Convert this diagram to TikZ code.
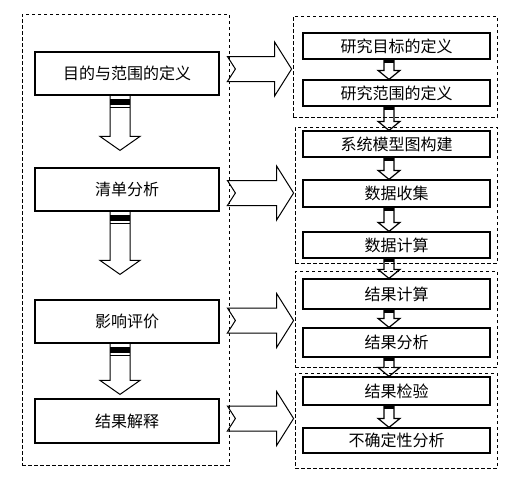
\documentclass[tikz,border=0pt]{standalone}
\usepackage{fontspec}
\newfontfamily\cjk{Noto Sans CJK SC}
\usetikzlibrary{calc}
\tikzset{
  stepbox/.style={draw, line width=1.2pt, inner sep=0pt, font=\cjk\fontsize{16}{16}\selectfont},
  lbox/.style={stepbox, minimum width=184pt},
  rbox/.style={stepbox, minimum width=187pt},
  grp/.style={draw, line width=0.8pt, dash pattern=on 3.5pt off 2.5pt, inner sep=0pt},
  arrowline/.style={draw, line width=1pt, line join=miter}
}
% big hollow down arrow between left boxes: #1 from, #2 to, #3 gap of tip above target
\newcommand\bigdown[3]{%
  \draw[arrowline] let \p1=(#1.south), \p2=(#2.north) in
    (\x1-17pt,\y1) -- (\x1-17pt,\y2+#3pt+14pt) -- (\x1-27pt,\y2+#3pt+14pt)
    -- (\x1-7pt,\y2+#3pt) -- (\x1+13pt,\y2+#3pt+14pt) -- (\x1+3pt,\y2+#3pt+14pt)
    -- (\x1+3pt,\y1);
  \fill let \p1=(#1.south) in (\x1-17pt,\y1-3pt) rectangle (\x1+3pt,\y1-9pt);
  \draw[line width=1pt] let \p1=(#1.south) in (\x1-17pt,\y1-12pt) -- (\x1+3pt,\y1-12pt);
}
% small hollow down arrow between right boxes
\newcommand\smalldown[2]{%
  \draw[arrowline, line width=1.2pt] let \p1=(#1.south), \p2=(#2.north) in
    (\x1-12.5pt,\y1) -- (\x1-12.5pt,\y2+9pt) -- (\x1-18.5pt,\y2+9pt)
    -- (\x1-7.5pt,\y2) -- (\x1+3.5pt,\y2+9pt) -- (\x1-2.5pt,\y2+9pt)
    -- (\x1-2.5pt,\y1);
  \fill let \p1=(#1.south) in (\x1-12.5pt,\y1) rectangle (\x1-2.5pt,\y1-3pt);
}
% big hollow right arrow from left frame #1 to group #2 at height #3
\newcommand\bigright[3]{%
  \draw[arrowline] let \p1=(#1.east), \p2=(#2.west) in
    (\x1-2pt,-#3pt+12.5pt) -- (\x2-18pt,-#3pt+12.5pt) -- (\x2-18pt,-#3pt+27pt)
    -- (\x2-1pt,-#3pt) -- (\x2-18pt,-#3pt-27pt) -- (\x2-18pt,-#3pt-12.5pt)
    -- (\x1-2pt,-#3pt-12.5pt) -- (\x1+6pt,-#3pt) -- cycle;
}
\begin{document}
\begin{tikzpicture}[x=1pt,y=-1pt]
\useasboundingbox (0,0) rectangle (514,483);
% frames
\node[grp, minimum width=207pt, minimum height=451pt] (L) at (125.5,239.5) {};
\node[grp, minimum width=204pt, minimum height=101pt] (G1) at (395,66.5) {};
\node[grp, minimum width=202pt, minimum height=136pt] (G2) at (396,195) {};
\node[grp, minimum width=202pt, minimum height=96pt] (G3) at (396,319) {};
\node[grp, minimum width=202pt, minimum height=95pt] (G4) at (396,420.5) {};
% left boxes
\node[lbox, minimum height=43pt] (b1) at (127,73.5) {目的与范围的定义};
\node[lbox, minimum height=43pt] (b2) at (127,189.5) {清单分析};
\node[lbox, minimum height=43pt] (b3) at (127,321.5) {影响评价};
\node[lbox, minimum height=44pt] (b4) at (127,421) {结果解释};
% right boxes
\node[rbox, minimum height=26pt] (r1) at (396.5,46) {研究目标的定义};
\node[rbox, minimum height=26pt] (r2) at (396.5,93) {研究范围的定义};
\node[rbox, minimum height=26pt] (r3) at (396.5,144) {系统模型图构建};
\node[rbox, minimum height=27pt] (r4) at (396.5,193.5) {数据收集};
\node[rbox, minimum height=26pt] (r5) at (396.5,245) {数据计算};
\node[rbox, minimum height=30pt] (r6) at (396.5,294) {结果计算};
\node[rbox, minimum height=29pt] (r7) at (396.5,342.5) {结果分析};
\node[rbox, minimum height=28pt] (r8) at (396.5,391) {结果检验};
\node[rbox, minimum height=25pt] (r9) at (396.5,440.5) {不确定性分析};
% left down arrows
\bigdown{b1}{b2}{17}
\bigdown{b2}{b3}{25}
\bigdown{b3}{b4}{4}
% right small arrows
\smalldown{r1}{r2}
\smalldown{r2}{r3}
\smalldown{r3}{r4}
\smalldown{r4}{r5}
\smalldown{r5}{r6}
\smalldown{r6}{r7}
\smalldown{r7}{r8}
\smalldown{r8}{r9}
% right arrows
\bigright{L}{G1}{69}
\bigright{L}{G2}{193}
\bigright{L}{G3}{320.5}
\bigright{L}{G4}{418.5}
\end{tikzpicture}
\end{document}
